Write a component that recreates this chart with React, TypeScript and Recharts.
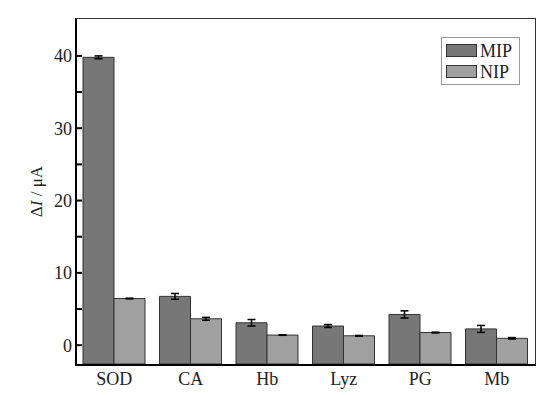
import React from 'react';
import { BarChart, Bar, XAxis, YAxis, ErrorBar } from 'recharts';

const categories = ['SOD', 'CA', 'Hb', 'Lyz', 'PG', 'Mb'];
const mipValues = [39.8, 6.75, 3.1, 2.65, 4.25, 2.25];
const mipErrors = [0.2, 0.4, 0.45, 0.2, 0.5, 0.48];
const nipValues = [6.45, 3.65, 1.4, 1.3, 1.75, 0.95];
const nipErrors = [0.05, 0.2, 0.03, 0.05, 0.05, 0.1];
const yDomain = [-2.6, 45.1];
const yTicks = [0, 5, 10, 15, 20, 25, 30, 35, 40];
const seriesNames = ['MIP', 'NIP'];
const seriesColors = ['#777777', '#a0a0a0'];

const data = categories.map((name, i) => ({
  name,
  MIP: [yDomain[0], mipValues[i]],
  NIP: [yDomain[0], nipValues[i]],
  mipErr: mipErrors[i],
  nipErr: nipErrors[i],
}));

const FONT = '"Liberation Serif", "Times New Roman", serif';
const W = 557;
const H = 395;
const M = { top: 19, right: 22, left: 0, bottom: 0 };
const Y_AXIS_W = 76;
const X_AXIS_H = 31;

const YLabel = (props: any) => {
  const { viewBox } = props;
  const cx = 42;
  const cy = viewBox.y + viewBox.height / 2;
  return (
    <text x={cx} y={cy} transform={`rotate(-90 ${cx} ${cy})`} textAnchor="middle" fontFamily={FONT} fontSize={17} fill="#222">
      <tspan>Δ</tspan>
      <tspan fontStyle="italic">I</tspan>
      <tspan> / μA</tspan>
    </text>
  );
};

export default function App() {
  const plotLeft = M.left + Y_AXIS_W;
  const plotTop = M.top;
  const plotW = W - plotLeft - M.right;
  const plotH = H - plotTop - M.bottom - X_AXIS_H;
  return (
    <div style={{ position: 'absolute', left: 0, top: 0, width: W, height: H, background: '#fff' }}>
      <BarChart width={W} height={H} data={data} margin={M} barCategoryGap={7} barGap={0}>
        <XAxis
          dataKey="name"
          height={X_AXIS_H}
          tickLine={false}
          tickSize={0}
          tickMargin={8}
          axisLine={false}
          tick={{ fontFamily: FONT, fontSize: 18, fill: '#222' }}
        />
        <YAxis
          type="number"
          domain={yDomain}
          ticks={yTicks}
          width={Y_AXIS_W}
          tickSize={-6}
          tickMargin={10}
          tickLine={{ stroke: '#000', strokeWidth: 2 }}
          tick={{ fontFamily: FONT, fontSize: 18, fill: '#222' }}
          tickFormatter={(v: number) => (v % 10 === 0 ? String(v) : '')}
          allowDataOverflow
          axisLine={false}
          label={{ content: <YLabel /> }}
        />
        <Bar dataKey="MIP" fill={seriesColors[0]} stroke="#333" strokeWidth={1} isAnimationActive={false}>
          <ErrorBar dataKey="mipErr" width={4} stroke="#000" strokeWidth={1.5} isAnimationActive={false} />
        </Bar>
        <Bar dataKey="NIP" fill={seriesColors[1]} stroke="#333" strokeWidth={1} isAnimationActive={false}>
          <ErrorBar dataKey="nipErr" width={4} stroke="#000" strokeWidth={1.5} isAnimationActive={false} />
        </Bar>
      </BarChart>
      <div
        style={{
          position: 'absolute',
          boxSizing: 'border-box',
          left: plotLeft - 1.5,
          top: plotTop - 1,
          width: plotW + 2.5,
          height: plotH + 2.5,
          borderLeft: '2.5px solid #000',
          borderBottom: '2.5px solid #000',
          borderTop: '1.5px solid #333',
          borderRight: '1.5px solid #333',
          pointerEvents: 'none',
        }}
      />
      <div
        style={{
          position: 'absolute',
          left: 441,
          top: 37,
          width: 73,
          border: '1px solid #999',
          background: '#fff',
          padding: '2px 0 2px 4px',
          fontFamily: FONT,
          fontSize: 18,
          color: '#222',
          lineHeight: '20px',
        }}
      >
        {seriesNames.map((label, i) => (
          <div key={label} style={{ display: 'flex', alignItems: 'center', height: 21 }}>
            <span style={{ display: 'inline-block', width: 29, height: 11, background: seriesColors[i], border: '1px solid #333', marginRight: 3 }} />
            <span>{label}</span>
          </div>
        ))}
      </div>
    </div>
  );
}
